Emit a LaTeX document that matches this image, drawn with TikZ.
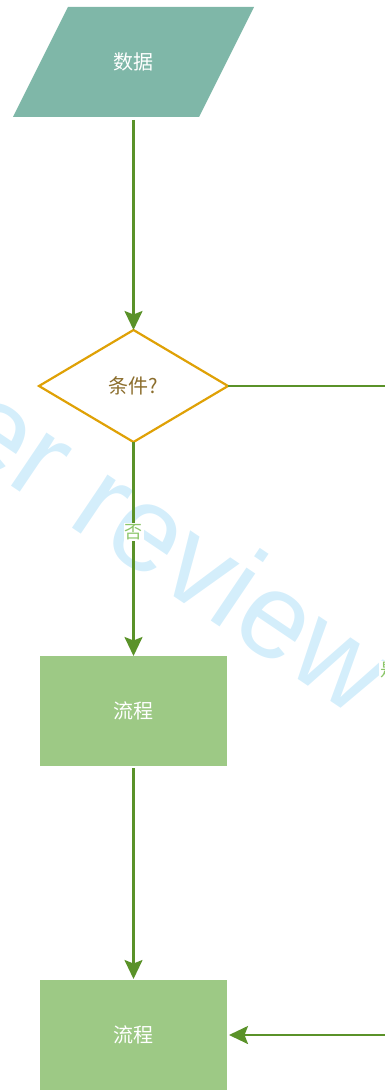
\documentclass[tikz,border=0pt]{standalone}
\usepackage{fontspec}
\newfontfamily\cjk{Noto Sans CJK SC}
\newfontfamily\wmfont{Liberation Sans}
\usetikzlibrary{shapes.geometric,arrows.meta,calc}
\definecolor{datafill}{HTML}{7FB7A8}
\definecolor{procfill}{HTML}{9DC985}
\definecolor{arrowc}{HTML}{5A9229}
\definecolor{diamc}{HTML}{DFA106}
\definecolor{condtext}{HTML}{8B6D2C}
\definecolor{lblc}{HTML}{8CC66A}
\definecolor{wmc}{HTML}{D4EEFB}
\begin{document}
\begin{tikzpicture}[x=1pt,y=-1pt,
  line/.style={draw=arrowc, line width=2.2pt},
  conn/.style={line, -{Stealth[length=19pt,width=18pt,inset=3.5pt]}},
  datatext/.style={minimum width=241pt, minimum height=110pt, inner sep=0pt, outer sep=0pt, text=white, font=\cjk\fontsize{20}{23}\selectfont},
  decision/.style={diamond, draw=diamc, line width=2.2pt, minimum width=189pt, minimum height=112pt, inner sep=0pt, outer sep=0pt, text=condtext, font=\cjk\fontsize{20}{23}\selectfont},
  proc/.style={rectangle, fill=procfill, minimum width=187pt, minimum height=110pt, inner sep=0pt, outer sep=0pt, text=white, font=\cjk\fontsize{20}{23}\selectfont},
  lbl/.style={fill=white, inner sep=1pt, text=lblc, font=\cjk\fontsize{18}{21}\selectfont},
  wm/.style={text=wmc, font=\wmfont\fontsize{121}{121}\selectfont, inner sep=0pt}]
\useasboundingbox (0,0) rectangle (385,1091);
% watermark
\node[wm, anchor=base west, rotate=-34] (wmark) at (-51.5,444) {er review};
% data (parallelogram)
\node[datatext] (data) at (133.5,62) {};
\fill[datafill] ($(data.north west)+(55,0)$) -- (data.north east) -- ($(data.south east)+(-55,0)$) -- (data.south west) -- cycle;
\node[datatext] at (data.center) {数据};
% decision
\node[decision] (cond) at (133.5,386) {条件?};
% processes
\node[proc] (p1) at (133.5,711) {流程};
\node[proc] (p2) at (133.5,1035) {流程};
% connectors
\coordinate (yesR) at (389,386);
\coordinate (yesB) at (389,1035);
\draw[conn] ($(data.south)+(0,3)$) -- (cond.north);
\draw[conn] (cond.south) -- node[lbl, pos=0.42] {否} (p1.north);
\draw[conn] ($(p1.south)+(0,2)$) -- ($(p2.north)+(0,-1)$);
\draw[conn] (cond.east) -- (yesR) -- node[lbl, pos=0.437] {是} (yesB) -- ($(p2.east)+(2,0)$);
\end{tikzpicture}
\end{document}
